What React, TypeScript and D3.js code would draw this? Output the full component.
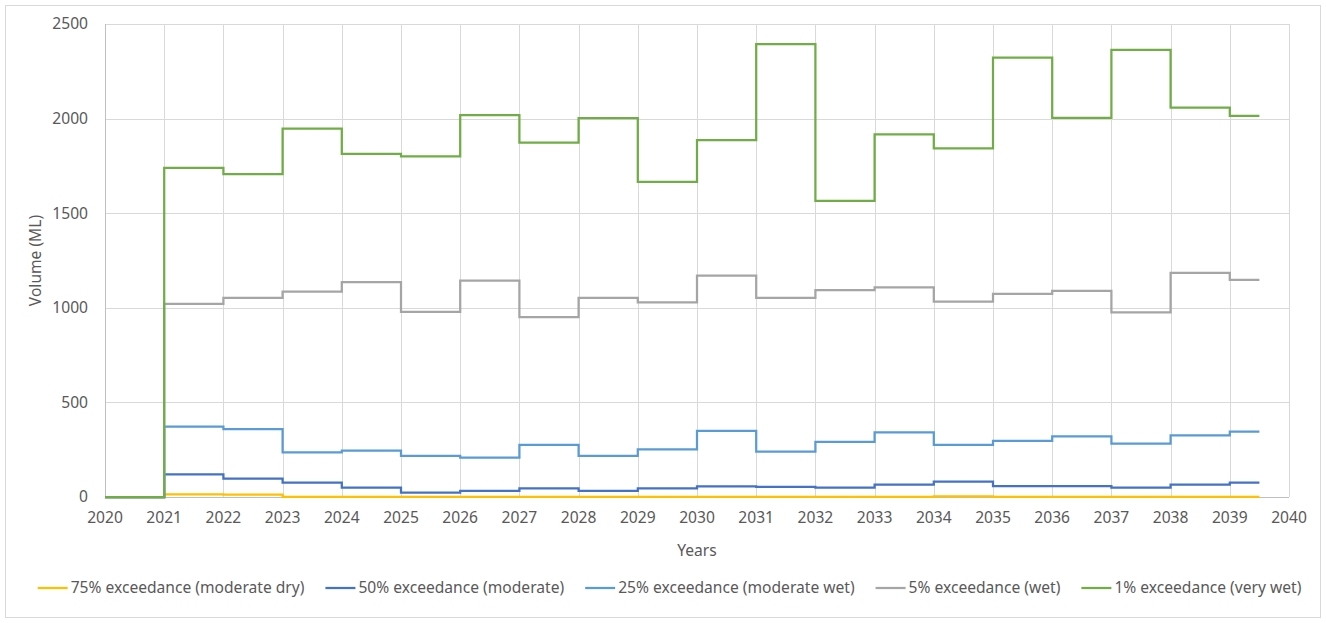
import React, { useEffect, useRef } from "react";
import * as d3 from "d3";

const years = [2020, 2021, 2022, 2023, 2024, 2025, 2026, 2027, 2028, 2029, 2030, 2031, 2032, 2033, 2034, 2035, 2036, 2037, 2038, 2039];
const endYear = 2039.5;

const s75 = [0, 14, 12, 1, 1, 1, 1, 1, 1, 1, 1, 1, 1, 1, 3, 1, 1, 1, 1, 1];
const s50 = [0, 120, 97, 76, 49, 23, 33, 46, 32, 46, 56, 54, 49, 65, 81, 58, 58, 49, 65, 76];
const s25 = [0, 372, 359, 236, 245, 217, 208, 276, 217, 252, 349, 240, 291, 342, 276, 296, 321, 282, 326, 345];
const s5 = [0, 1021, 1053, 1085, 1136, 979, 1143, 951, 1052, 1029, 1170, 1052, 1094, 1108, 1032, 1073, 1089, 976, 1185, 1148];
const s1 = [0, 1739, 1706, 1947, 1813, 1801, 2018, 1873, 2002, 1665, 1886, 2393, 1565, 1917, 1843, 2322, 2004, 2363, 2058, 2014];

const seriesNames = [
  "75% exceedance (moderate dry)",
  "50% exceedance (moderate)",
  "25% exceedance (moderate wet)",
  "5% exceedance (wet)",
  "1% exceedance (very wet)",
];
const seriesColors = ["#FFC000", "#4472C4", "#5B9BD5", "#A5A5A5", "#70AD47"];
const seriesValues = [s75, s50, s25, s5, s1];

const yTicks = [0, 500, 1000, 1500, 2000, 2500];
const xTicks = d3.range(2020, 2041, 1);

const W = 1326;
const H = 623;
const FONT = "'Noto Sans', 'Open Sans', sans-serif";
const FS = 15.6;

export default function App() {
  const ref = useRef<SVGSVGElement>(null);

  useEffect(() => {
    const svg = d3.select(ref.current);
    svg.selectAll("*").remove();

    const left = 105, right = 1289, top = 24, bottom = 497;
    const x = d3.scaleLinear().domain([2020, 2040]).range([left, right]);
    const y = d3.scaleLinear().domain([0, 2500]).range([bottom, top]);

    svg.append("rect").attr("x", 5.5).attr("y", 5.5).attr("width", W - 11).attr("height", H - 11)
      .attr("fill", "#fff").attr("stroke", "#D9D9D9").attr("stroke-width", 1);

    const g = svg.append("g");
    g.selectAll("line.hg").data(yTicks).join("line")
      .attr("x1", left).attr("x2", right)
      .attr("y1", (d) => Math.round(y(d)) + 0.5).attr("y2", (d) => Math.round(y(d)) + 0.5)
      .attr("stroke", (d) => (d === 0 ? "#BFBFBF" : "#D9D9D9")).attr("stroke-width", 1);
    g.selectAll("line.vg").data(xTicks).join("line")
      .attr("x1", (d) => Math.round(x(d)) + 0.5).attr("x2", (d) => Math.round(x(d)) + 0.5)
      .attr("y1", top).attr("y2", bottom)
      .attr("stroke", (d) => (d === 2020 ? "#BFBFBF" : "#D9D9D9")).attr("stroke-width", 1);

    g.selectAll("text.yl").data(yTicks).join("text")
      .attr("x", 88).attr("y", (d) => y(d)).attr("dy", "0.35em")
      .attr("text-anchor", "end").attr("font-family", FONT).attr("font-size", FS).attr("fill", "#595959")
      .text((d) => String(d));
    g.selectAll("text.xl").data(xTicks).join("text")
      .attr("x", (d) => x(d)).attr("y", 523)
      .attr("text-anchor", "middle").attr("font-family", FONT).attr("font-size", FS).attr("fill", "#595959")
      .text((d) => String(d));

    svg.append("text").attr("transform", `translate(41,${(top + bottom) / 2}) rotate(-90)`)
      .attr("text-anchor", "middle").attr("font-family", FONT).attr("font-size", FS).attr("fill", "#595959")
      .text("Volume (ML)");
    svg.append("text").attr("x", (left + right) / 2).attr("y", 556)
      .attr("text-anchor", "middle").attr("font-family", FONT).attr("font-size", FS).attr("fill", "#595959")
      .text("Years");

    const line = d3.line<[number, number]>().x((d) => x(d[0])).y((d) => y(d[1])).curve(d3.curveStepAfter);
    seriesValues.forEach((vals, i) => {
      const pts: [number, number][] = years.map((yr, j) => [yr, vals[j]]);
      pts.push([endYear, vals[vals.length - 1]]);
      svg.append("path").attr("d", line(pts) as string).attr("fill", "none")
        .attr("stroke", seriesColors[i]).attr("stroke-width", 2.25).attr("stroke-linejoin", "miter");
    });

    const lg = svg.append("g");
    const items = seriesNames.map((name, i) => {
      const it = lg.append("g");
      it.append("line").attr("x1", 0).attr("x2", 30).attr("y1", 0).attr("y2", 0)
        .attr("stroke", seriesColors[i]).attr("stroke-width", 2.25);
      const t = it.append("text").attr("x", 33).attr("y", 0).attr("dy", "0.35em")
        .attr("font-family", FONT).attr("font-size", FS).attr("fill", "#595959").text(name);
      const w = (t.node() as SVGTextElement).getComputedTextLength();
      return { it, w: 33 + w };
    });
    const gap = 21;
    const total = items.reduce((a, b) => a + b.w, 0) + gap * (items.length - 1);
    let cx = 669.5 - total / 2;
    items.forEach((o) => {
      o.it.attr("transform", `translate(${cx},588)`);
      cx += o.w + gap;
    });
  }, []);

  return (
    <svg ref={ref} width={W} height={H} style={{ position: "absolute", left: 0, top: 0, background: "#fff" }} />
  );
}
